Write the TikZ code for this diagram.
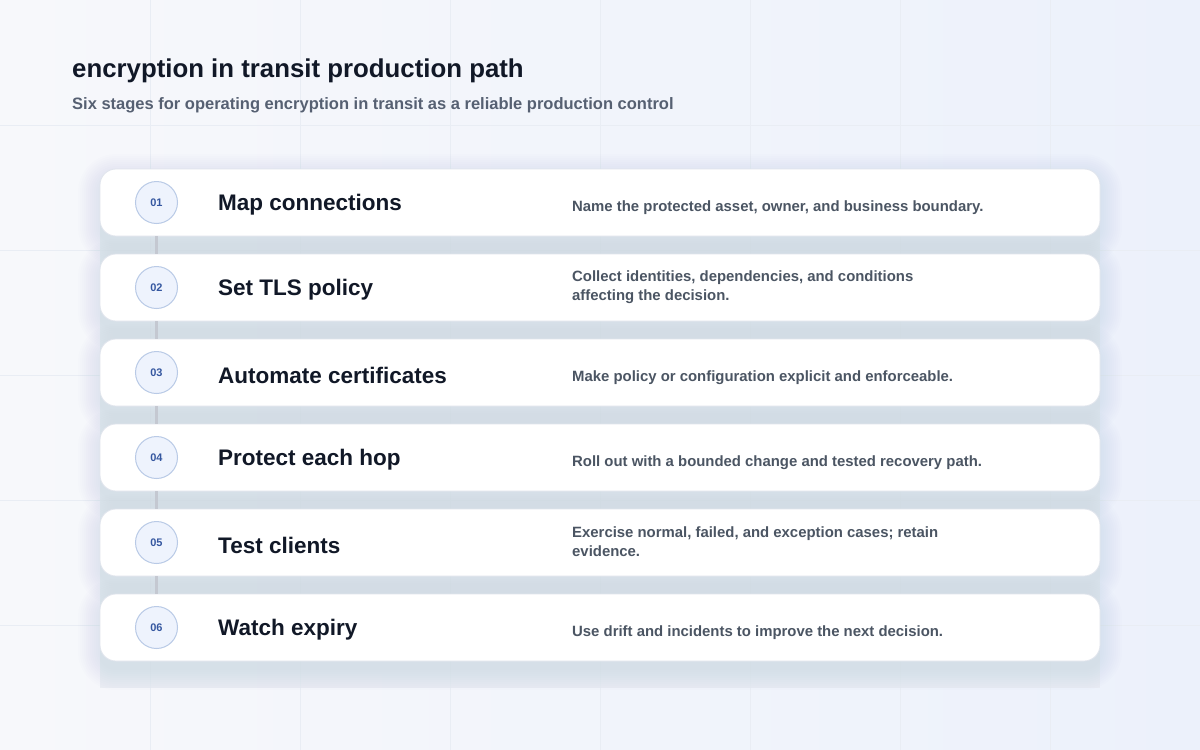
\documentclass[tikz,border=0pt]{standalone}
\usepackage{fontspec}
\setmainfont{Liberation Sans}
\definecolor{bgA}{HTML}{F7F8FB}
\definecolor{bgB}{HTML}{ECF1FB}
\definecolor{gridc}{HTML}{E9EDF4}
\definecolor{panelc}{HTML}{E6E9F1}
\definecolor{shadowc}{HTML}{5A6A90}
\definecolor{titlec}{HTML}{111827}
\definecolor{subc}{HTML}{566072}
\definecolor{descc}{HTML}{4B5563}
\definecolor{circfill}{HTML}{EEF3FD}
\definecolor{circdraw}{HTML}{B9CAE6}
\definecolor{numc}{HTML}{3557A0}
\definecolor{cardedge}{HTML}{E1E5ED}
\definecolor{connc}{HTML}{C4C8D1}
\tikzset{
  card/.style={draw=cardedge, line width=0.8pt, fill=white, rounded corners=16pt,
    minimum width=1000pt, minimum height=67pt, inner sep=0pt},
  numcirc/.style={circle, draw=circdraw, line width=1pt, fill=circfill, minimum size=42pt, inner sep=0pt,
    text=numc, font=\fontsize{11}{13}\selectfont\bfseries},
  stagetitle/.style={anchor=west, inner sep=0pt, text=titlec, font=\fontsize{22.5}{26}\selectfont\bfseries},
  stagedesc/.style={anchor=west, inner sep=0pt, text=descc, align=left, font=\fontsize{14.9}{19}\selectfont\bfseries},
  conn/.style={draw=connc, line width=3.5pt},
}
\begin{document}
\begin{tikzpicture}[x=1pt,y=-1pt]
\useasboundingbox (0,0) rectangle (1200,750);
\shade[left color=bgA, right color=bgB] (0,0) rectangle (1200,750);
\foreach \gx in {150,300,...,1050} \draw[gridc, line width=0.8pt] (\gx,0) -- (\gx,750);
\foreach \gy in {125,250,...,625} \draw[gridc, line width=0.8pt] (0,\gy) -- (1200,\gy);
\fill[panelc, opacity=0.7] (100,190) rectangle (1100,688);

\node[anchor=base west, inner sep=0pt, text=titlec, font=\fontsize{25.8}{30}\selectfont\bfseries] (title) at (72,77) {encryption in transit production path};
\node[anchor=base west, inner sep=0pt, text=subc, font=\fontsize{16.5}{20}\selectfont\bfseries] (subtitle) at (72,109.5) {Six stages for operating encryption in transit as a reliable production control};

\foreach \i in {1,...,6} {
  \pgfmathsetmacro{\sy}{202.5+85*(\i-1)+7}
  \foreach \k in {2,4,...,22}
    \fill[shadowc, opacity=0.008, rounded corners=16+\k] (100-\k,\sy-33.5-\k) rectangle (1100+\k,\sy+33.5+\k);
}

\foreach \i/\num/\ttl/\dsc/\dy in {
  1/01/{Map connections}/{Name the protected asset, owner, and business boundary.}/5.5,
  2/02/{Set TLS policy}/{Collect identities, dependencies, and conditions\\affecting the decision.}/-0.5,
  3/03/{Automate certificates}/{Make policy or configuration explicit and enforceable.}/5.5,
  4/04/{Protect each hop}/{Roll out with a bounded change and tested recovery path.}/5.5,
  5/05/{Test clients}/{Exercise normal, failed, and exception cases; retain\\evidence.}/-0.5,
  6/06/{Watch expiry}/{Use drift and incidents to improve the next decision.}/5.5} {
  \pgfmathsetmacro{\cy}{202.5+85*(\i-1)}
  \node[card] (c\i) at (600,\cy) {};
  \node[numcirc] (n\i) at (156.5,\cy) {\num};
  \node[stagetitle] (t\i) at (218,\cy+2.5) {\ttl};
  \node[stagedesc] (d\i) at (572,\cy+\dy) {\dsc};
}
\foreach \i/\j in {1/2,2/3,3/4,4/5,5/6}
  \draw[conn] (c\i.south -| n\i.center) -- (c\j.north -| n\j.center);
\end{tikzpicture}
\end{document}
